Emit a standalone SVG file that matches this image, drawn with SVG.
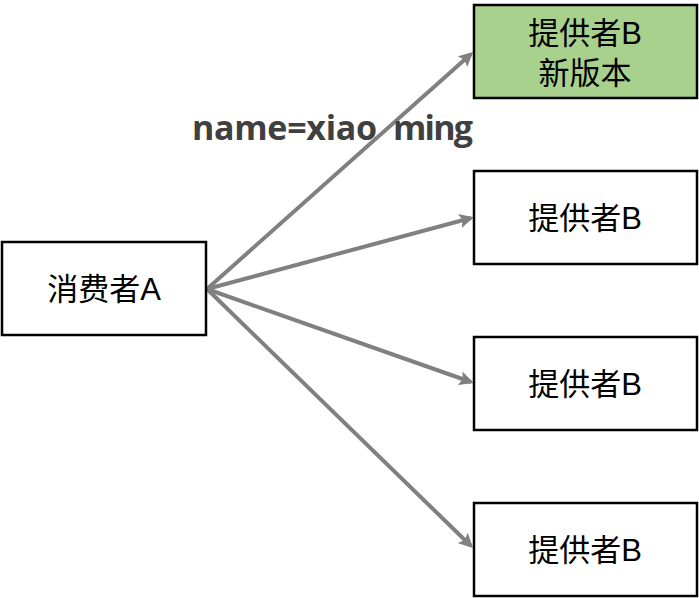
<svg xmlns="http://www.w3.org/2000/svg" width="699" height="598" viewBox="0 0 699 598">
<style>
.box{fill:#fff;stroke:#000;stroke-width:2.5}
.lbl{font-family:"Liberation Sans","Noto Sans CJK SC",sans-serif;font-size:31px;fill:#000;text-anchor:middle}
.edge{stroke:#808080;stroke-width:4;fill:none;marker-end:url(#ah)}
.nm{font-family:'Open Sans','Liberation Sans',sans-serif;font-weight:bold;font-size:34px;fill:#404040}
</style>
<defs>
<marker id="ah" viewBox="0 0 10 10" refX="8" refY="5" markerWidth="3.6" markerHeight="3.6" orient="auto" markerUnits="strokeWidth">
<path d="M0,0 L10,5 L0,10 L2,5 Z" fill="#808080"/>
</marker>
</defs>
<g id="edges">
<line class="edge" x1="207" y1="289" x2="471" y2="54"/>
<line class="edge" x1="207" y1="289" x2="471" y2="218"/>
<line class="edge" x1="207" y1="289" x2="471" y2="382"/>
<line class="edge" x1="207" y1="289" x2="471" y2="546"/>
</g>
<g id="label">
<text class="nm" x="192" y="140" textLength="185" lengthAdjust="spacing">name=xiao</text>
<text class="nm" x="393" y="140" textLength="80" lengthAdjust="spacing">ming</text>
</g>
<g id="consumerA">
<rect class="box" x="2" y="242" width="204" height="93"/>
<text class="lbl" x="104" y="300">消费者A</text>
</g>
<g id="providerNew">
<rect class="box" x="474" y="5" width="223" height="93" style="fill:#a9d18e"/>
<text class="lbl" x="585" y="44">提供者B</text>
<text class="lbl" x="585" y="84">新版本</text>
</g>
<g id="provider2">
<rect class="box" x="474" y="171" width="223" height="93"/>
<text class="lbl" x="585" y="229">提供者B</text>
</g>
<g id="provider3">
<rect class="box" x="474" y="337" width="223" height="93"/>
<text class="lbl" x="585" y="395">提供者B</text>
</g>
<g id="provider4">
<rect class="box" x="474" y="503" width="223" height="93"/>
<text class="lbl" x="585" y="561">提供者B</text>
</g>
</svg>
